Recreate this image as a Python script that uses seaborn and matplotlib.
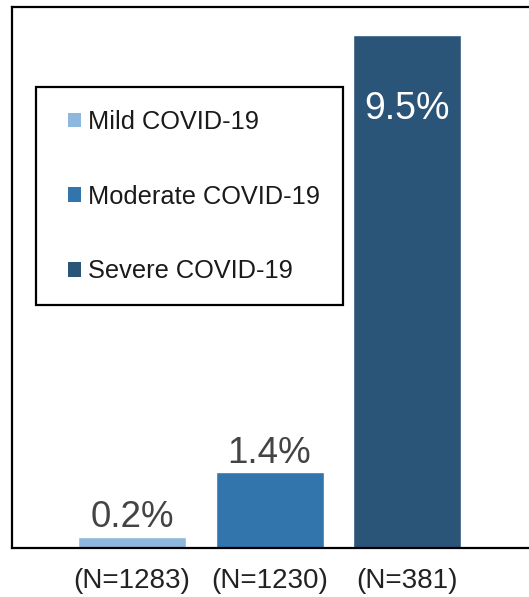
import matplotlib
matplotlib.use("Agg")
import matplotlib.pyplot as plt
from matplotlib.patches import Patch, Rectangle
import seaborn as sns
import pandas as pd

categories = ["Mild COVID-19", "Moderate COVID-19", "Severe COVID-19"]
values = [0.2, 1.4, 9.5]
tick_labels = ["(N=1283)", "(N=1230)", "(N=381)"]
value_labels = ["0.2%", "1.4%", "9.5%"]
colors = ["#8DB7DC", "#3274AC", "#2B5479"]

sns.set_theme(style="white")
plt.rcParams['font.family'] = ['Liberation Sans', 'DejaVu Sans']

W, H = 529, 597
fig = plt.figure(figsize=(W / 100, H / 100), dpi=100)
ax = fig.add_axes([12 / W, 1 - 548 / H, 1 - 12 / W, (548 - 7) / H])

df = pd.DataFrame({"cat": categories, "val": values})
sns.barplot(data=df, x="cat", y="val", hue="cat", palette=colors,
            width=0.786, legend=False, ax=ax, saturation=1)

ax.set_ylim(0, 10.02)
ax.set_xlim(-0.873, 2.887)
ax.set_xticks(range(len(categories)))
ax.set_xticklabels(tick_labels, fontsize=20, color="#222222")
ax.tick_params(axis="x", length=0, pad=14.5)
ax.set_yticks([])
ax.set_xlabel("")
ax.set_ylabel("")
for s in ["left", "top", "bottom"]:
    ax.spines[s].set_visible(True)
    ax.spines[s].set_color("black")
    ax.spines[s].set_linewidth(1.6)
ax.spines["right"].set_visible(False)

for i, (v, lab) in enumerate(zip(values, value_labels)):
    if v > 5:
        ax.text(i, v - 1.56, lab, ha="center", va="baseline", fontsize=27, color="white")
    else:
        ax.text(i, v + 0.18, lab, ha="center", va="baseline", fontsize=26.5, color="#444444")

# legend frame
fig.patches.append(Rectangle((36 / W, 1 - 305 / H), (343 - 36) / W, (305 - 87) / H,
                             transform=fig.transFigure, facecolor="white",
                             edgecolor="black", linewidth=1.6, zorder=5))

handles = [Patch(facecolor=c, edgecolor="none") for c in colors]
leg = fig.legend(handles, categories, loc="upper left",
                 bbox_to_anchor=(68 / W, 1 - 110 / H), bbox_transform=fig.transFigure,
                 fontsize=18.3, frameon=False,
                 handlelength=0.52, handleheight=0.52,
                 handletextpad=0.28, labelspacing=1.99, borderpad=0,
                 borderaxespad=0)
leg.set_zorder(6)
for t in leg.get_texts():
    t.set_color("#1a1a1a")

fig.savefig("out.png", dpi=100)
